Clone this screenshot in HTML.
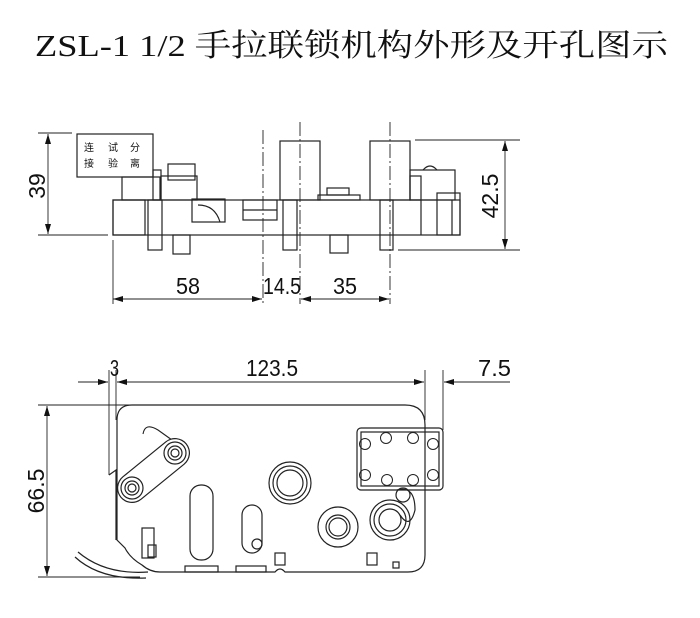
<!DOCTYPE html>
<html><head><meta charset="utf-8"><style>
html,body{margin:0;padding:0;background:#fff;width:700px;height:618px;overflow:hidden}
svg{display:block}
text{font-family:"Liberation Sans","Noto Sans CJK SC",sans-serif;fill:#111}
</style></head><body>
<svg width="700" height="618" viewBox="0 0 700 618" xmlns="http://www.w3.org/2000/svg">
<defs>
<marker id="a" viewBox="0 0 10 6" refX="10" refY="3" markerWidth="10" markerHeight="6" orient="auto-start-reverse" markerUnits="userSpaceOnUse"><path d="M0,0L10,3L0,6z" fill="#111"/></marker>
</defs>
<text x="35" y="56" font-size="31" textLength="633" lengthAdjust="spacingAndGlyphs" style='font-family:"Liberation Serif","Noto Serif CJK SC",serif'>ZSL-1 1/2 手拉联锁机构外形及开孔图示</text>

<g fill="none" stroke="#222" stroke-width="1.2">
<line x1="38" y1="133" x2="72" y2="133" stroke-width="0.9"/>
<line x1="38" y1="235" x2="108" y2="235" stroke-width="0.9"/>
<line x1="48" y1="134" x2="48" y2="234" stroke-width="0.9" marker-start="url(#a)" marker-end="url(#a)"/>
<line x1="415" y1="140" x2="520" y2="140" stroke-width="0.9"/>
<line x1="398" y1="250" x2="520" y2="250" stroke-width="0.9"/>
<line x1="505" y1="141" x2="505" y2="249" stroke-width="0.9" marker-start="url(#a)" marker-end="url(#a)"/>
<line x1="113" y1="240" x2="113" y2="304" stroke-width="0.9"/>
<line x1="113" y1="299" x2="262" y2="299" stroke-width="0.9" marker-start="url(#a)" marker-end="url(#a)"/>
<line x1="301" y1="299" x2="389" y2="299" stroke-width="0.9" marker-start="url(#a)" marker-end="url(#a)"/>
<line x1="263" y1="130" x2="263" y2="304" stroke-width="0.9" stroke-dasharray="14,3,2,3"/>
<line x1="300" y1="122" x2="300" y2="304" stroke-width="0.9" stroke-dasharray="14,3,2,3"/>
<line x1="390" y1="122" x2="390" y2="304" stroke-width="0.9" stroke-dasharray="14,3,2,3"/>

<rect x="77" y="134" width="76" height="43"/>
<rect x="113" y="200" width="347" height="35"/>
<rect x="113" y="200" width="32" height="35"/>
<rect x="148" y="200" width="14" height="50"/>
<rect x="173" y="235" width="17" height="19"/>
<rect x="122" y="177" width="38" height="23"/>
<rect x="153" y="170" width="8" height="30"/>
<rect x="161" y="176" width="36" height="24"/>
<rect x="168" y="164" width="27" height="16"/>
<rect x="192" y="199" width="33" height="23"/>
<path d="M198,205 Q215,205 220,222"/>
<rect x="243" y="200" width="34" height="20"/>
<line x1="243" y1="210" x2="277" y2="210"/>
<rect x="280" y="141" width="40" height="59"/>
<rect x="370" y="141" width="40" height="59"/>
<rect x="283" y="200" width="14" height="50"/>
<rect x="380" y="200" width="13" height="50"/>
<rect x="330" y="235" width="18" height="18"/>
<rect x="318" y="195" width="42" height="5"/>
<rect x="327" y="188" width="22" height="7"/>
<rect x="410" y="170" width="45" height="30"/>
<rect x="410" y="176" width="11" height="24"/>
<rect x="437" y="193" width="23" height="42"/>
<line x1="421" y1="200" x2="421" y2="235"/>
<line x1="452" y1="200" x2="452" y2="235"/>
<path d="M423,170 q7,-8 14,0"/>

<line x1="78" y1="382" x2="108" y2="382" stroke-width="0.9" marker-end="url(#a)"/>
<line x1="117" y1="382" x2="424" y2="382" stroke-width="0.9" marker-start="url(#a)" marker-end="url(#a)"/>
<line x1="444" y1="382" x2="510" y2="382" stroke-width="0.9" marker-start="url(#a)"/>
<line x1="109" y1="370" x2="109" y2="475" stroke-width="0.9"/>
<line x1="116" y1="370" x2="116" y2="420" stroke-width="0.9"/>
<line x1="425" y1="370" x2="425" y2="420" stroke-width="0.9"/>
<line x1="443" y1="370" x2="443" y2="430" stroke-width="0.9"/>
<line x1="38" y1="405" x2="405" y2="405" stroke-width="0.9"/>
<line x1="38" y1="577" x2="140" y2="577" stroke-width="0.9"/>
<line x1="47" y1="406" x2="47" y2="576" stroke-width="0.9" marker-start="url(#a)" marker-end="url(#a)"/>

<path d="M132,405 H405 Q425,405 425,425 V555 Q425,572 408,572 H285 Q280,566 275,572 H160 Q150,572 142,565 Q130,558 125,548 L117,540 V420 Q117,405 132,405 Z"/>
<path d="M109,475 L116,470 V540"/>
<rect x="357" y="428" width="86" height="62" rx="4"/>
<rect x="361" y="432" width="78" height="54"/>
<g stroke-width="1">
<circle cx="365" cy="444" r="5.5"/><circle cx="386" cy="438" r="5.5"/><circle cx="413" cy="438" r="5.5"/><circle cx="433" cy="444" r="5.5"/>
<circle cx="365" cy="475" r="5.5"/><circle cx="387" cy="480" r="5.5"/><circle cx="413" cy="480" r="5.5"/><circle cx="433" cy="475" r="5.5"/>
</g>
<path d="M143,434 Q145,422 158,430 L172,440" stroke-width="1.1"/>
<line x1="175" y1="453" x2="132" y2="488" stroke="#222" stroke-width="30" stroke-linecap="round"/>
<line x1="175" y1="453" x2="132" y2="488" stroke="#fff" stroke-width="27.6" stroke-linecap="round"/>
<circle cx="175" cy="453" r="11"/><circle cx="175" cy="453" r="7"/><circle cx="175" cy="453" r="4"/>
<circle cx="132" cy="488" r="11"/><circle cx="132" cy="488" r="7"/><circle cx="132" cy="488" r="4"/>
<rect x="190" y="485" width="23" height="75" rx="11"/>
<rect x="242" y="505" width="20" height="48" rx="10"/>
<circle cx="257" cy="544" r="5"/>
<circle cx="290" cy="483" r="21"/><circle cx="290" cy="483" r="17"/><circle cx="290" cy="483" r="13"/>
<circle cx="338" cy="527" r="20"/><circle cx="338" cy="527" r="12"/><circle cx="338" cy="527" r="9"/>
<circle cx="390" cy="520" r="20"/><circle cx="390" cy="520" r="16"/><circle cx="390" cy="520" r="11"/>
<circle cx="403" cy="495" r="7"/>
<path d="M397,490 Q415,485 415,510 Q410,530 400,515"/>
<rect x="142" y="528" width="12" height="30"/>
<rect x="148" y="545" width="8" height="12"/>
<path d="M75,557 Q100,580 146,578"/>
<path d="M78,552 Q105,575 148,572"/>
<rect x="185" y="566" width="33" height="6"/>
<rect x="236" y="566" width="30" height="6"/>
<rect x="275" y="553" width="10" height="12"/>
<rect x="367" y="553" width="10" height="12"/>
<rect x="393" y="562" width="6" height="6"/>
</g>

<g font-size="23" style='font-family:"Liberation Sans Narrow","Liberation Sans",sans-serif'>
<text x="176" y="294" textLength="24" lengthAdjust="spacingAndGlyphs">58</text>
<text x="263" y="294" textLength="38" lengthAdjust="spacingAndGlyphs">14.5</text>
<text x="333" y="294" textLength="24" lengthAdjust="spacingAndGlyphs">35</text>
<text x="110" y="376" textLength="9" lengthAdjust="spacingAndGlyphs">3</text>
<text x="246" y="376" textLength="52" lengthAdjust="spacingAndGlyphs">123.5</text>
<text x="478" y="376" textLength="33" lengthAdjust="spacingAndGlyphs">7.5</text>
<text transform="translate(45,186) rotate(-90)" text-anchor="middle">39</text>
<text transform="translate(498,196) rotate(-90)" text-anchor="middle">42.5</text>
<text transform="translate(44,491) rotate(-90)" text-anchor="middle">66.5</text>
</g>
<g font-size="10" style='font-family:"Liberation Serif","Noto Serif CJK SC",serif'>
<text x="84" y="151">连</text><text x="108" y="151">试</text><text x="130" y="151">分</text>
<text x="84" y="167">接</text><text x="108" y="167">验</text><text x="130" y="167">离</text>
</g>
</svg>
</body></html>
